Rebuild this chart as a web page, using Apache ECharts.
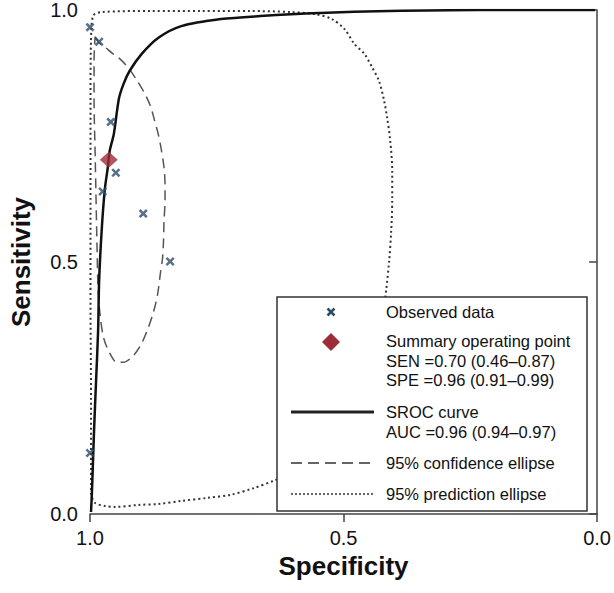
<!DOCTYPE html>
<html>
<head>
<meta charset="utf-8">
<script src="https://cdn.jsdelivr.net/npm/echarts@6/dist/echarts.min.js"></script>
<style>
html,body{margin:0;padding:0;background:#fff;}
#chart{width:614px;height:593px;}
</style>
</head>
<body>
<div id="chart"></div>
<script>
// ---- data (specificity, sensitivity) ----
var xTicks = [1.0, 0.5, 0.0];
var yTicks = [0.0, 0.5, 1.0];

var observedSpec = [1.000, 0.982, 0.959, 0.949, 0.975, 0.895, 0.842, 1.000];
var observedSens = [0.966, 0.937, 0.778, 0.677, 0.640, 0.596, 0.501, 0.121];

var summarySpec = [0.963];
var summarySens = [0.703];

var srocSpec = [0.998, 0.996, 0.992, 0.988, 0.984, 0.982, 0.977, 0.971, 0.965, 0.961, 0.953, 0.943, 0.934, 0.922, 0.898, 0.865, 0.820, 0.742, 0.664, 0.547, 0.410, 0.234, 0.004];
var srocSens = [0.004, 0.048, 0.166, 0.265, 0.364, 0.463, 0.562, 0.642, 0.687, 0.721, 0.754, 0.824, 0.853, 0.879, 0.913, 0.945, 0.968, 0.982, 0.988, 0.994, 0.998, 1.000, 1.000];

var confSpec = [0.990, 0.982, 0.969, 0.957, 0.941, 0.924, 0.908, 0.893, 0.881, 0.873, 0.865, 0.859, 0.854, 0.852, 0.852, 0.854, 0.855, 0.857, 0.861, 0.867, 0.875, 0.885, 0.898, 0.914, 0.934, 0.947, 0.961, 0.973, 0.980, 0.984, 0.986, 0.988, 0.990, 0.992, 0.992, 0.990];
var confSens = [0.947, 0.935, 0.925, 0.915, 0.903, 0.885, 0.861, 0.836, 0.810, 0.782, 0.752, 0.721, 0.687, 0.651, 0.622, 0.582, 0.543, 0.507, 0.479, 0.434, 0.400, 0.370, 0.339, 0.315, 0.301, 0.301, 0.319, 0.349, 0.394, 0.444, 0.523, 0.622, 0.721, 0.820, 0.899, 0.947];

var predSpec = [0.998, 0.998, 0.999, 0.999, 0.999, 0.998, 0.994, 0.977, 0.879, 0.781, 0.684, 0.605, 0.557, 0.523, 0.498, 0.479, 0.459, 0.443, 0.430, 0.420, 0.414, 0.408, 0.404, 0.404, 0.406, 0.410, 0.416, 0.424, 0.439, 0.459, 0.498, 0.547, 0.596, 0.635, 0.678, 0.723, 0.768, 0.820, 0.865, 0.904, 0.951, 0.971, 0.990, 0.998];
var predSens = [0.038, 0.226, 0.424, 0.622, 0.820, 0.939, 0.988, 0.996, 0.998, 0.998, 0.998, 0.996, 0.992, 0.982, 0.962, 0.933, 0.913, 0.885, 0.859, 0.820, 0.786, 0.741, 0.681, 0.622, 0.562, 0.503, 0.444, 0.384, 0.305, 0.226, 0.147, 0.107, 0.083, 0.067, 0.051, 0.038, 0.032, 0.026, 0.020, 0.018, 0.014, 0.016, 0.022, 0.038];

var legendLabels = ['Observed data', 'Summary operating point', 'SEN =0.70 (0.46\u20130.87)', 'SPE =0.96 (0.91\u20130.99)', 'SROC curve', 'AUC =0.96 (0.94\u20130.97)', '95% confidence ellipse', '95% prediction ellipse'];

function pairs(a, b) { return a.map(function (v, i) { return [v, b[i]]; }); }

var FONT = '"Liberation Sans", Arial, Helvetica, sans-serif';
var xPath = 'path://M0,2 L2,0 L5,3 L8,0 L10,2 L7,5 L10,8 L8,10 L5,7 L2,10 L0,8 L3,5 Z';
var markColor = '#2f4d68';
var diamondColor = '#9c2c38';

var chart = echarts.init(document.getElementById('chart'), null, {renderer: 'svg'});

var legX = 277, legY = 297, legW = 310, legH = 214;
var txtX = 386;
function txt(t, y) {
  return {type: 'text', z: 101, style: {text: t, x: txtX, y: y, fill: '#111', font: '16.5px ' + FONT, verticalAlign: 'middle'}};
}

var option = {
  animation: false,
  backgroundColor: '#fff',
  grid: {left: 88, right: 14, top: 9, bottom: 79, containLabel: false},
  xAxis: {
    type: 'value', inverse: true, min: 0, max: 1, interval: 0.5,
    name: 'Specificity', nameLocation: 'middle', nameGap: 33,
    nameTextStyle: {fontFamily: FONT, fontSize: 26, fontWeight: 'bold', color: '#111'},
    axisLine: {show: true, lineStyle: {color: '#444', width: 1.5}},
    axisTick: {show: true, length: 8, lineStyle: {color: '#444', width: 1.5}},
    axisLabel: {fontFamily: FONT, fontSize: 20, color: '#111', margin: 14, formatter: function (v) { return v.toFixed(1); }},
    splitLine: {show: false}
  },
  yAxis: {
    type: 'value', min: 0, max: 1, interval: 0.5,
    name: 'Sensitivity', nameLocation: 'middle', nameGap: 56, nameRotate: 90,
    nameTextStyle: {fontFamily: FONT, fontSize: 26, fontWeight: 'bold', color: '#111'},
    axisLine: {show: true, lineStyle: {color: '#444', width: 1.5}},
    axisTick: {show: true, length: 8, lineStyle: {color: '#444', width: 1.5}},
    axisLabel: {fontFamily: FONT, fontSize: 20, color: '#111', margin: 12, formatter: function (v) { return v.toFixed(1); }},
    splitLine: {show: false}
  },
  series: [
    {type: 'line', name: '95% prediction ellipse', data: pairs(predSpec, predSens), showSymbol: false, smooth: 0.3, z: 2,
     lineStyle: {color: '#333', width: 2, type: [2, 3]}},
    {type: 'line', name: '95% confidence ellipse', data: pairs(confSpec, confSens), showSymbol: false, smooth: 0.3, z: 3,
     lineStyle: {color: '#555', width: 1.5, type: [10, 6]}},
    {type: 'line', name: 'SROC curve', data: pairs(srocSpec, srocSens), showSymbol: false, smooth: 0.3, z: 4,
     lineStyle: {color: '#111', width: 2.5}},
    {type: 'scatter', name: 'Observed data', data: pairs(observedSpec, observedSens), symbol: xPath, symbolSize: 9, z: 5,
     itemStyle: {color: markColor}},
    {type: 'scatter', name: 'Summary operating point', data: pairs(summarySpec, summarySens), symbol: 'diamond', symbolSize: [18, 16], z: 6,
     itemStyle: {color: diamondColor}}
  ],
  graphic: [
    {type: 'rect', z: 100, shape: {x: legX, y: legY, width: legW, height: legH}, style: {fill: '#fff', stroke: '#333', lineWidth: 1.5}},
    {type: 'line', z: 101, shape: {x1: 327.5, y1: 308.5, x2: 334.5, y2: 315.5}, style: {stroke: markColor, lineWidth: 2.5}},
    {type: 'line', z: 101, shape: {x1: 334.5, y1: 308.5, x2: 327.5, y2: 315.5}, style: {stroke: markColor, lineWidth: 2.5}},
    {type: 'polygon', z: 101, shape: {points: [[331, 333], [340, 342], [331, 351], [322, 342]]}, style: {fill: diamondColor}},
    {type: 'line', z: 101, shape: {x1: 291, y1: 412, x2: 374, y2: 412}, style: {stroke: '#222', lineWidth: 3}},
    {type: 'line', z: 101, shape: {x1: 291, y1: 463, x2: 374, y2: 463}, style: {stroke: '#333', lineWidth: 1.5, lineDash: [11, 6]}},
    {type: 'line', z: 101, shape: {x1: 291, y1: 494, x2: 374, y2: 494}, style: {stroke: '#333', lineWidth: 1.5, lineDash: [2, 2]}},
    txt(legendLabels[0], 312),
    txt(legendLabels[1], 341),
    txt(legendLabels[2], 361),
    txt(legendLabels[3], 380),
    txt(legendLabels[4], 412),
    txt(legendLabels[5], 432),
    txt(legendLabels[6], 463),
    txt(legendLabels[7], 494)
  ]
};
chart.setOption(option);
</script>
</body>
</html>
